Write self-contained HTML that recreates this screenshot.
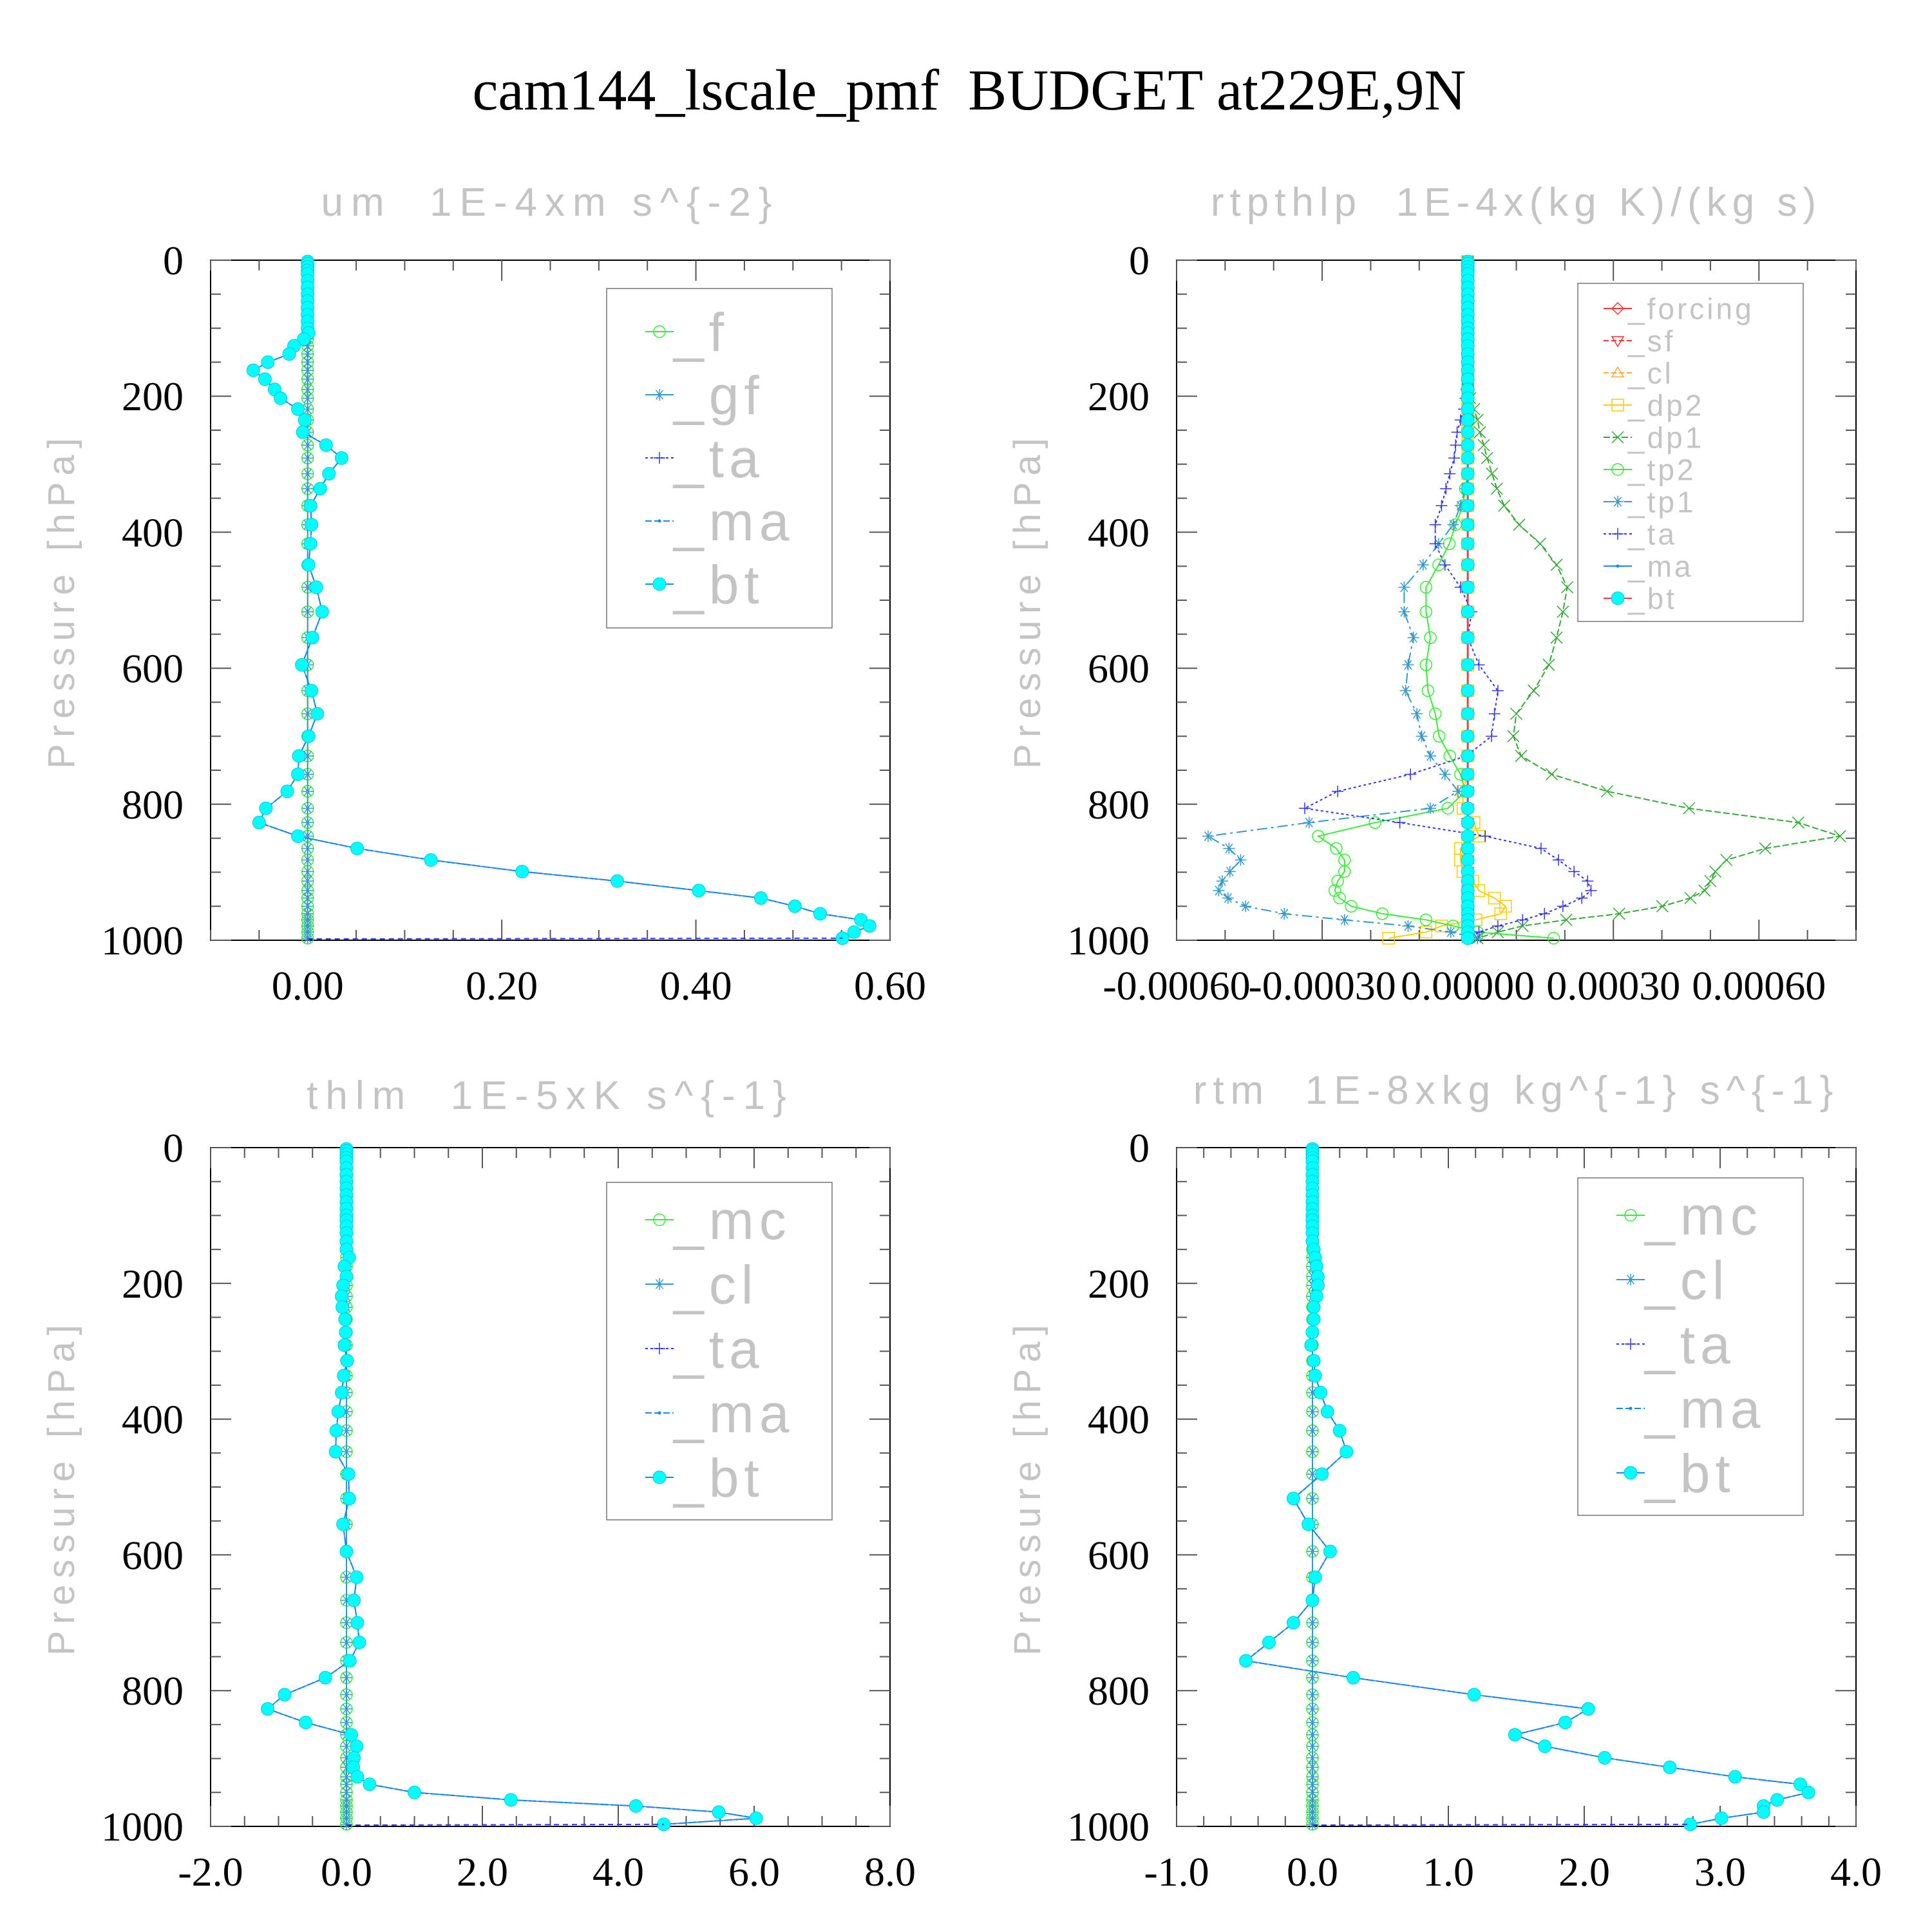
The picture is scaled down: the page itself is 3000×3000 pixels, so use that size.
<!DOCTYPE html>
<html><head><meta charset="utf-8">
<style>
html,body{margin:0;padding:0;background:#fff;}
svg{display:block;}
text{white-space:pre;}
</style></head>
<body>
<svg id="chart" width="3000" height="3000" viewBox="0 0 3000 3000" xmlns="http://www.w3.org/2000/svg" xml:space="preserve">
<rect x="0" y="0" width="3000" height="3000" fill="#fff"/>
<text x="1505" y="170" text-anchor="middle" font-family="Liberation Serif, serif" font-size="90" fill="#000">cam144_lscale_pmf  BUDGET at229E,9N</text>
</svg>
<script>
// ---------- data ----------
const levels = [2,5,10,15,20,30,40,50,60,70,80,90,100,107,116,126,138,150,162,175,190,203,219,235,253,272,291,314,336,361,389,417,448,481,517,555,595,633,667,700,729,756,781,806,827,847,865,882,899,913,927,938,950,961,970,979,988,997];
const zeros58 = [0,0,0,0,0,0,0,0,0,0,0,0,0,0,0,0,0,0,0,0,0,0,0,0,0,0,0,0,0,0,0,0,0,0,0,0,0,0,0,0,0,0,0,0,0,0,0,0,0,0,0,0,0,0,0,0,0,0];
const yTicks = [0,200,400,600,800,1000];
const yTickLabels = ["0","200","400","600","800","1000"];

// panel 1 : um
const umBt = [0,0,0,0,0,0,0,0,0,0,0,0,0,0.001,-0.004,-0.014,-0.019,-0.041,-0.056,-0.044,-0.034,-0.028,-0.010,-0.003,-0.005,0.019,0.035,0.022,0.013,0.003,0.004,0.003,0.001,0.009,0.015,0.005,-0.006,0.004,0.010,0.001,-0.009,-0.010,-0.021,-0.043,-0.050,-0.010,0.051,0.127,0.221,0.319,0.403,0.467,0.502,0.528,0.570,0.579,0.563,0.551];
const umXTicks = [0,0.2,0.4,0.6];
const umXTickLabels = ["0.00","0.20","0.40","0.60"];

// panel 2 : rtpthlp (values in 1E-4 units of axis)
const rtDp1 = [0,0,0,0,0,0,0,0,0,0,0,0,0,0,0,0,0,0,0,0,0,0.05,0.13,0.2,0.25,0.33,0.4,0.5,0.6,0.75,1.06,1.49,1.83,2.05,1.96,1.83,1.67,1.36,1.0,0.94,1.10,1.73,2.87,4.56,6.81,7.67,6.13,5.33,5.10,5.0,4.88,4.59,4.01,3.12,2.03,1.13,0.62,0.2];
const rtTp2 = [0,0,0,0,0,0,0,0,0,0,0,0,0,0,0,0,0,0,0,0,0,0,0,0,0,0,0,0,-0.05,-0.1,-0.25,-0.38,-0.6,-0.86,-0.86,-0.77,-0.86,-0.82,-0.67,-0.59,-0.37,-0.15,-0.05,-0.41,-1.91,-3.08,-2.71,-2.54,-2.54,-2.68,-2.74,-2.64,-2.40,-1.76,-0.86,-0.3,0.2,1.77];
const rtTp1 = [0,0,0,0,0,0,0,0,0,0,0,0,0,0,0,0,0,0,0,0,0,0,0,0,0,0,0,0,-0.05,-0.15,-0.3,-0.6,-0.92,-1.31,-1.31,-1.12,-1.23,-1.28,-1.05,-0.95,-0.77,-0.47,-0.2,-0.77,-3.27,-5.35,-4.92,-4.68,-4.90,-5.06,-5.13,-4.94,-4.58,-3.78,-2.54,-1.23,-0.35,0.2];
const rtTa = [0,0,0,0,0,0,0,0,0,0,0,0,0,0,0,0,0,0,0,0,-0.03,-0.05,-0.08,-0.15,-0.22,-0.25,-0.28,-0.37,-0.45,-0.54,-0.67,-0.67,-0.47,-0.15,0.08,0,0.23,0.62,0.55,0.49,-0.03,-1.18,-2.68,-3.36,-1.4,0.36,1.51,1.87,2.19,2.47,2.54,2.35,1.96,1.58,1.13,0.62,0.23,0];
const rtDp2 = [0,0,0,0,0,0,0,0,0,0,0,0,0,0,0,0,0,0,0,0,0,0,0,0,0,0,0,0,0,0,0,0,0,0,0,0,0,0,0,0,0,0,-0.1,-0.1,0.13,0.23,-0.15,-0.15,-0.1,0.1,0.23,0.55,0.78,0.68,0.17,-0.54,-0.86,-1.63];
const rtXTicks = [-6,-3,0,3,6];
const rtXTickLabels = ["-0.00060","-0.00030","0.00000","0.00030","0.00060"];

// panel 3 : thlm
const thBt = [0,0,0,0,0,0,0,0,0,0,0,0,0,0,0,0,0,0,0.04,-0.03,0.0,-0.05,-0.07,-0.06,-0.02,-0.01,-0.03,0.01,-0.04,-0.07,-0.12,-0.15,-0.16,0.03,0.04,-0.05,0,0.15,0.11,0.16,0.19,0.05,-0.31,-0.91,-1.16,-0.60,0.07,0.15,0.11,0.10,0.16,0.34,1.0,2.42,4.26,5.48,6.03,4.67];
const thXTicks = [-2,0,2,4,6,8];
const thXTickLabels = ["-2.0","0.0","2.0","4.0","6.0","8.0"];

// panel 4 : rtm
const rmBt = [0,0,0,0,0,0,0,0,0,0,0,0,0,0,0,0,0,0.01,0.02,0.03,0.04,0.04,0.03,0.01,0.01,0,-0.01,0.01,0.02,0.06,0.11,0.20,0.25,0.07,-0.14,-0.03,0.13,0.02,0,-0.14,-0.32,-0.49,0.30,1.19,2.03,1.86,1.49,1.71,2.15,2.63,3.11,3.59,3.65,3.42,3.32,3.32,3.01,2.78];
const rmXTicks = [-1,0,1,2,3,4];
const rmXTickLabels = ["-1.0","0.0","1.0","2.0","3.0","4.0"];

// ---------- drawing ----------
const NS = "http://www.w3.org/2000/svg";
const svg = document.getElementById("chart");
function mk(tag, attrs, parent){
  const e = document.createElementNS(NS, tag);
  for (const k in attrs) e.setAttribute(k, attrs[k]);
  (parent||svg).appendChild(e);
  return e;
}
const GRAY = "#c4c4c4";
const COL = {green:"#33ee33", steel:"#3399cc", blue:"#3333ff", ma:"#1188ff", cyan:"#00f0f0", dkgreen:"#33aa33", yellow:"#ffcc00", orange:"#ffaa33", red:"#ff3333"};

function marker(g, type, x, y, c){
  const s = 9;
  let m;
  if (type==="circle"){ m = mk("circle",{cx:x,cy:y,r:s,fill:"none",stroke:c,"stroke-width":1.5},g); }
  else if (type==="dot"){ m = mk("circle",{cx:x,cy:y,r:2.5,fill:c},g); }
  else if (type==="bt"){ m = mk("circle",{cx:x,cy:y,r:10,fill:"#00ffff",stroke:"#00c8d8","stroke-width":1},g); }
  else if (type==="plus"){ m = mk("path",{d:`M${x-s} ${y}H${x+s}M${x} ${y-s}V${y+s}`,stroke:c,"stroke-width":1.5,fill:"none"},g); }
  else if (type==="x"){ m = mk("path",{d:`M${x-s} ${y-s}L${x+s} ${y+s}M${x-s} ${y+s}L${x+s} ${y-s}`,stroke:c,"stroke-width":1.5,fill:"none"},g); }
  else if (type==="star"){ m = mk("path",{d:`M${x-s} ${y}H${x+s}M${x-s*0.6} ${y-s*0.8}L${x+s*0.6} ${y+s*0.8}M${x-s*0.6} ${y+s*0.8}L${x+s*0.6} ${y-s*0.8}M${x} ${y-s}V${y+s}`,stroke:c,"stroke-width":1.5,fill:"none"},g); }
  else if (type==="square"){ m = mk("rect",{x:x-s,y:y-s,width:2*s,height:2*s,fill:"none",stroke:c,"stroke-width":1.5},g); }
  else if (type==="tri"){ m = mk("path",{d:`M${x} ${y-s}L${x+s} ${y+s*0.7}L${x-s} ${y+s*0.7}Z`,stroke:c,"stroke-width":1.5,fill:"none"},g); }
  else if (type==="tridown"){ m = mk("path",{d:`M${x} ${y+s}L${x+s} ${y-s*0.7}L${x-s} ${y-s*0.7}Z`,stroke:c,"stroke-width":1.5,fill:"none"},g); }
  else if (type==="diamond"){ m = mk("path",{d:`M${x} ${y-s}L${x+s} ${y}L${x} ${y+s}L${x-s} ${y}Z`,stroke:c,"stroke-width":1.5,fill:"none"},g); }
  return m;
}

function panel(cfg){
  const g = mk("g",{});
  
  
  const {x0,x1,y0,y1,xmin,xmax} = cfg;
  const sx = v => x0 + (v-xmin)/(xmax-xmin)*(x1-x0);
  const sy = p => y0 + p/1000*(y1-y0);
  // title
  const t = mk("text",{x:(x0+x1)/2+cfg.titleDx,y:cfg.titleY,"text-anchor":"middle","font-family":"Liberation Sans, sans-serif","font-size":62,fill:GRAY,"letter-spacing":cfg.titleLs},g);
  
  
  t.textContent = cfg.title;
  // y label
  const yl = mk("text",{x:0,y:0,transform:`translate(${x0-212},${(y0+y1)/2}) rotate(-90)`,"text-anchor":"middle","font-family":"Liberation Sans, sans-serif","font-size":58,fill:GRAY,"letter-spacing":10},g);
  
  
  yl.textContent = "Pressure [hPa]";
  // frame
  const fr = mk("rect",{x:x0,y:y0,width:x1-x0,height:y1-y0,fill:"none",stroke:"#000","stroke-width":2},g);
  
  
  let d = "";
  for (let p=0;p<=1000;p+=50){
    const L = (p%200===0)?32:16;
    d += `M${x0} ${sy(p)}h${L}M${x1} ${sy(p)}h${-L}`;
  }
  for (let k=0;k<=Math.round((xmax-xmin)/cfg.minor);k++){
    const v = xmin + k*cfg.minor;
    const isMaj = cfg.xTicks.some(tv=>Math.abs(tv-v)<1e-9);
    const L = isMaj?32:16;
    d += `M${sx(v)} ${y1}v${-L}M${sx(v)} ${y0}v${L}`;
  }
  const tk = mk("path",{d:d,stroke:"#555","stroke-width":2,fill:"none"},g);
  
  
  yTicks.forEach((p,i)=>{
    const e = mk("text",{x:x0-42,y:sy(p)+22,"text-anchor":"end","font-family":"Liberation Serif, serif","font-size":64,fill:"#000"},g);
    
    
    e.textContent = yTickLabels[i];
  });
  cfg.xTicks.forEach((v,i)=>{
    const e = mk("text",{x:sx(v),y:y1+92,"text-anchor":"middle","font-family":"Liberation Serif, serif","font-size":64,fill:"#000"},g);
    
    
    e.textContent = cfg.xTickLabels[i];
  });
  cfg.series.forEach(s=>{
    const sg = mk("g",{},g);
    
    
    const pts = s.values.map((v,i)=>[sx(v),sy(levels[i])]);
    const pl = mk("polyline",{points:pts.map(p=>p.join(",")).join(" "),fill:"none",stroke:s.lineColor||s.color,"stroke-width":s.lw||2,"stroke-dasharray":s.dash||"none"},sg);
    
    
    pts.forEach(p=>{
      const m = marker(sg,s.marker,p[0],p[1],s.color);
      
      
    });
  });
  if (cfg.sfcLine){
    const last = cfg.sfcLine[cfg.sfcLine.length-1];
    const sl = mk("line",{x1:sx(0),y1:sy(1000)-2,x2:sx(last),y2:sy(levels[levels.length-1]),stroke:COL.blue,"stroke-width":2,"stroke-dasharray":"8 6"},g);
    
    
  }
  const lg = cfg.legend;
  const lgg = mk("g",{},g);
  
  
  mk("rect",{x:lg.x,y:lg.y,width:lg.w,height:lg.h,fill:"#fff",stroke:"#777","stroke-width":1.5},lgg);
  cfg.series.forEach((s,i)=>{
    const yy = lg.y + lg.first + i*lg.step;
    const eg = mk("g",{},lgg);
    
    
    mk("line",{x1:lg.x+lg.mx-22,y1:yy,x2:lg.x+lg.mx+22,y2:yy,stroke:s.lineColor||s.color,"stroke-width":2,"stroke-dasharray":s.dash||"none"},eg);
    marker(eg,s.marker,lg.x+lg.mx,yy,s.color);
    const tx = mk("text",{x:lg.x+lg.tx,y:yy+lg.fs*0.36,"font-family":"Liberation Sans, sans-serif","font-size":lg.fs,fill:GRAY,"letter-spacing":lg.ls},eg);
    tx.textContent = s.label;
  });
}

panel({name:"panel-um",x0:327,x1:1382,y0:404,y1:1460,xmin:-0.1,xmax:0.6,minor:0.05,
  title:"um  1E-4xm s^{-2}",titleY:335,titleDx:0,titleLs:12,
  xTicks:umXTicks,xTickLabels:umXTickLabels,sfcLine:umBt,
  legend:{x:942,y:448,w:350,h:527,mx:82,tx:104,first:67,step:98,fs:84,ls:8},
  series:[
   {label:"_f",values:zeros58,marker:"circle",color:COL.green},
   {label:"_gf",values:zeros58,marker:"star",color:COL.steel},
   {label:"_ta",values:umBt,marker:"plus",color:COL.blue,dash:"4 4"},
   {label:"_ma",values:umBt,marker:"dot",color:COL.ma,dash:"10 4"},
   {label:"_bt",values:umBt,marker:"bt",color:COL.cyan,lineColor:"#1188ff",lw:1.5}
  ]});

panel({name:"panel-rtpthlp",x0:1827,x1:2882,y0:404,y1:1460,xmin:-6,xmax:8,minor:1,
  title:"rtpthlp  1E-4x(kg K)/(kg s)",titleY:335,titleDx:0,titleLs:9,
  xTicks:rtXTicks,xTickLabels:rtXTickLabels,
  legend:{x:2450,y:440,w:350,h:525,mx:62,tx:78,first:39,step:50,fs:46,ls:4},
  series:[
   {label:"_forcing",values:zeros58,marker:"diamond",color:COL.red,lw:3},
   {label:"_sf",values:zeros58,marker:"tridown",color:COL.red,dash:"8 4"},
   {label:"_cl",values:zeros58,marker:"tri",color:COL.orange,dash:"8 4"},
   {label:"_dp2",values:rtDp2,marker:"square",color:COL.yellow},
   {label:"_dp1",values:rtDp1,marker:"x",color:COL.dkgreen,dash:"10 4"},
   {label:"_tp2",values:rtTp2,marker:"circle",color:COL.green},
   {label:"_tp1",values:rtTp1,marker:"star",color:COL.steel,dash:"16 6 4 6"},
   {label:"_ta",values:rtTa,marker:"plus",color:COL.blue,dash:"4 4"},
   {label:"_ma",values:zeros58,marker:"dot",color:COL.ma},
   {label:"_bt",values:zeros58,marker:"bt",color:COL.cyan,lineColor:"#ff3333",lw:2}
  ]});

panel({name:"panel-thlm",x0:327,x1:1382,y0:1782,y1:2836,xmin:-2,xmax:8,minor:0.5,
  title:"thlm  1E-5xK s^{-1}",titleY:1722,titleDx:0,titleLs:12,
  xTicks:thXTicks,xTickLabels:thXTickLabels,sfcLine:thBt,
  legend:{x:942,y:1836,w:350,h:524,mx:82,tx:104,first:58,step:100,fs:84,ls:8},
  series:[
   {label:"_mc",values:zeros58,marker:"circle",color:COL.green},
   {label:"_cl",values:zeros58,marker:"star",color:COL.steel},
   {label:"_ta",values:thBt,marker:"plus",color:COL.blue,dash:"4 4"},
   {label:"_ma",values:thBt,marker:"dot",color:COL.ma,dash:"10 4"},
   {label:"_bt",values:thBt,marker:"bt",color:COL.cyan,lineColor:"#1188ff",lw:1.5}
  ]});

panel({name:"panel-rtm",x0:1827,x1:2882,y0:1782,y1:2836,xmin:-1,xmax:4,minor:0.2,
  title:"rtm  1E-8xkg kg^{-1} s^{-1}",titleY:1714,titleDx:0,titleLs:10,
  xTicks:rmXTicks,xTickLabels:rmXTickLabels,sfcLine:rmBt,
  legend:{x:2450,y:1829,w:350,h:524,mx:82,tx:104,first:58,step:100,fs:84,ls:8},
  series:[
   {label:"_mc",values:zeros58,marker:"circle",color:COL.green},
   {label:"_cl",values:zeros58,marker:"star",color:COL.steel},
   {label:"_ta",values:rmBt,marker:"plus",color:COL.blue,dash:"4 4"},
   {label:"_ma",values:rmBt,marker:"dot",color:COL.ma,dash:"10 4"},
   {label:"_bt",values:rmBt,marker:"bt",color:COL.cyan,lineColor:"#1188ff",lw:1.5}
  ]});
</script>
</body></html>
